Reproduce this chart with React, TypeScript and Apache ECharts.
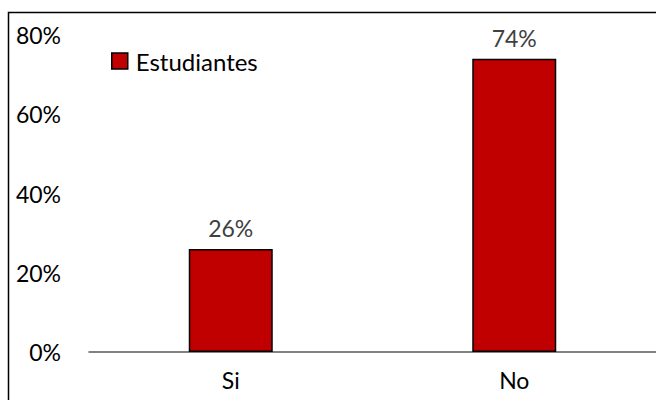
import React, { useEffect, useRef } from "react";
import * as echarts from "echarts";

const categories = ["Si", "No"];
const seriesName = "Estudiantes";
const values = [26, 74];
const yTicks = { min: 0, max: 80, interval: 20 };

export default function App() {
  const ref = useRef<HTMLDivElement>(null);
  useEffect(() => {
    const chart = echarts.init(ref.current!, null, { renderer: "svg" });
    const font = "Lato";
    chart.setOption({
      animation: false,
      backgroundColor: "#ffffff",
      textStyle: { fontFamily: font },
      graphic: [
        {
          type: "rect",
          shape: { x: 8.5, y: 12.5, width: 700, height: 500 },
          style: { fill: "none", stroke: "#000", lineWidth: 1.5 },
          silent: true,
        },
      ],
      legend: {
        left: 106,
        top: 44,
        itemWidth: 16,
        itemHeight: 16,
        icon: "rect",
        data: [{ name: seriesName, itemStyle: { borderColor: "#000", borderWidth: 1.5 } }],
        textStyle: { fontFamily: font, fontSize: 24, color: "#000", padding: [0, 0, 0, 3] },
      },
      grid: { left: 89, top: 35, width: 578, bottom: 48, containLabel: false },
      xAxis: {
        type: "category",
        data: categories,
        axisLine: { show: true, lineStyle: { color: "#595959", width: 1.5 } },
        axisTick: { show: false },
        axisLabel: { fontFamily: font, fontSize: 23, color: "#000", margin: 16 },
      },
      yAxis: {
        type: "value",
        min: yTicks.min,
        max: yTicks.max,
        interval: yTicks.interval,
        splitLine: { show: false },
        axisLine: { show: false },
        axisTick: { show: false },
        axisLabel: {
          fontFamily: font,
          fontSize: 23,
          color: "#000",
          margin: 28,
          formatter: (v: number) => `${v}%`,
        },
      },
      series: [
        {
          name: seriesName,
          type: "bar",
          data: values,
          barWidth: 84,
          itemStyle: { color: "#C00000", borderColor: "#000", borderWidth: 1.5 },
          label: {
            show: true,
            position: "top",
            distance: 9,
            fontFamily: font,
            fontSize: 23,
            color: "#404040",
            formatter: (p: any) => `${p.value}%`,
          },
        },
      ],
    });
    return () => chart.dispose();
  }, []);
  return (
    <div
      ref={ref}
      style={{ position: "fixed", left: 0, top: 0, width: 656, height: 400 }}
    />
  );
}
